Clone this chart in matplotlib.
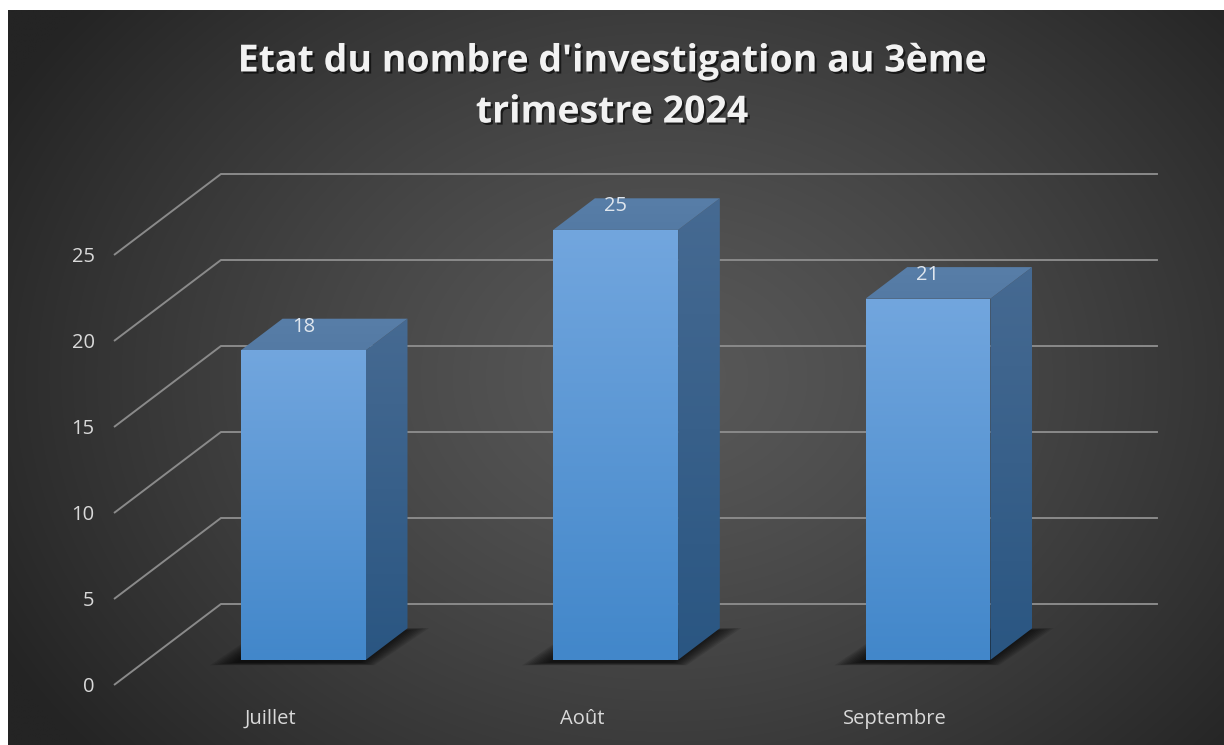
import numpy as np
import matplotlib
matplotlib.use("Agg")
import matplotlib.pyplot as plt
from matplotlib.patches import Polygon
from matplotlib import patheffects as pe

# ---------------- data ----------------
categories = ["Juillet", "Août", "Septembre"]
values = [18, 25, 21]
yticks = [0, 5, 10, 15, 20, 25]
title = "Etat du nombre d'investigation au 3ème\ntrimestre 2024"

# ---------------- figure ----------------
W, H = 1224, 745
fig = plt.figure(figsize=(W / 100, H / 100), dpi=100)
fig.patch.set_facecolor("white")

# radial gradient background
bg = fig.add_axes([8 / W, 0, 1 - 8 / W, (H - 10) / H])
bg.axis("off")
yy, xx = np.mgrid[0:1:400j, 0:1:600j]
r = np.sqrt(((xx - 0.54) / 0.62) ** 2 + ((yy - 0.50) / 0.80) ** 2)
t = np.clip(r, 0, 1) ** 1.3
c_in = np.array([88, 88, 88]) / 255
c_out = np.array([36, 36, 36]) / 255
img = c_in[None, None, :] * (1 - t[..., None]) + c_out[None, None, :] * t[..., None]
bg.imshow(img, extent=(0, 1, 0, 1), origin="upper", aspect="auto", interpolation="bilinear")
bg.set_xlim(0, 1)
bg.set_ylim(0, 1)

# main axes = front plane of the 3D box
ax = fig.add_axes([114 / W, 60 / H, 937 / W, 430 / H])
ax.patch.set_alpha(0)
for s in ax.spines.values():
    s.set_visible(False)

DX, DY = 0.3424, 4.709      # full depth offset (data units)
F0, F1 = 0.31, 0.70         # bar front / back depth fraction
BW = 0.40

grid_col = "#8a8a8a"
for v in yticks:
    ax.plot([-0.5, -0.5 + DX, 2.5 + DX], [v, v + DY, v + DY],
            color=grid_col, lw=1.4, clip_on=False, zorder=1, solid_capstyle="butt")


def grad_face(verts, c_top, c_bot, z):
    poly = Polygon(verts, closed=True, facecolor="none", edgecolor="none")
    ax.add_patch(poly)
    xs = [p[0] for p in verts]
    ys = [p[1] for p in verts]
    g = np.linspace(0, 1, 256)[:, None, None]
    ct = np.array(c_top) / 255
    cb = np.array(c_bot) / 255
    im_arr = ct[None, None, :] * (1 - g) + cb[None, None, :] * g
    im = ax.imshow(im_arr, extent=(min(xs), max(xs), min(ys), max(ys)),
                   origin="upper", aspect="auto", interpolation="bilinear", zorder=z)
    im.set_clip_box(fig.bbox)
    im.set_clip_path(poly)


for i, v in enumerate(values):
    x0 = i - BW / 2 + F0 * DX
    x1 = i + BW / 2 + F0 * DX
    yb = F0 * DY
    yt = v + F0 * DY
    bdx = (F1 - F0) * DX
    bdy = (F1 - F0) * DY

    # soft shadow under the bar
    cxs = (x0 + x1 + bdx) / 2
    cys = yb + bdy / 2
    foot = np.array([(x0, yb), (x1, yb), (x1 + bdx, yb + bdy), (x0 + bdx, yb + bdy)])
    for k in range(10):
        sx = 1.0 + 0.035 * k
        sy = 1.0 + 0.02 * k
        pts = np.column_stack([(foot[:, 0] - cxs) * sx + cxs - 0.015,
                               (foot[:, 1] - cys) * sy + cys - 0.15])
        ax.add_patch(Polygon(pts, closed=True, facecolor="black", edgecolor="none",
                             alpha=0.10, zorder=2, clip_on=False))

    front = [(x0, yb), (x1, yb), (x1, yt), (x0, yt)]
    side = [(x1, yb), (x1 + bdx, yb + bdy), (x1 + bdx, yt + bdy), (x1, yt)]
    top = [(x0, yt), (x1, yt), (x1 + bdx, yt + bdy), (x0 + bdx, yt + bdy)]
    grad_face(side, (70, 106, 146), (42, 86, 130), 3)
    grad_face(front, (114, 166, 222), (66, 135, 202), 4)
    grad_face(top, (88, 126, 168), (84, 122, 164), 4)

    ax.annotate(str(v), (i + F0 * DX, yt), xytext=(0, 17), textcoords="offset points",
                ha="center", va="center", color="#dfe6ee", fontsize=14.5,
                family="Open Sans", annotation_clip=False, zorder=6)

ax.set_xlim(-0.5, 2.5)
ax.set_ylim(0, 25)
ax.set_yticks(yticks)
ax.set_yticklabels([str(v) for v in yticks])
ax.set_xticks(range(len(categories)))
ax.set_xticklabels(categories)
ax.tick_params(axis="y", length=0, pad=14, labelcolor="#d9d9d9", labelsize=14.5)
ax.tick_params(axis="x", length=0, pad=17, labelcolor="#d9d9d9", labelsize=14.5)
for lab in ax.get_xticklabels() + ax.get_yticklabels():
    lab.set_family("Open Sans")

fig.text(0.5, 1 - 87 / H, title, ha="center", va="center", fontsize=27,
         fontweight="bold", family="Open Sans", color="#f2f2f2", linespacing=1.45,
         path_effects=[pe.withSimplePatchShadow(offset=(1.5, -1.5), shadow_rgbFace="black", alpha=0.6)])

fig.savefig("out.png", dpi=100, facecolor="white")
